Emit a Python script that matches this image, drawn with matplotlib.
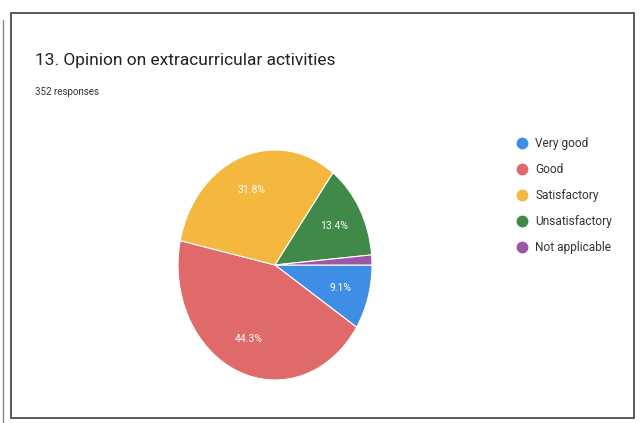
import matplotlib
matplotlib.use("Agg")
import matplotlib.pyplot as plt
from matplotlib.patches import Rectangle
from matplotlib.lines import Line2D

title = "13. Opinion on extracurricular activities"
subtitle = "352 responses"
categories = ["Very good", "Good", "Satisfactory", "Unsatisfactory", "Not applicable"]
values = [9.1, 44.3, 31.8, 13.4, 1.4]
colors = ["#3f8ee6", "#e06a6a", "#f5b83e", "#3f8a48", "#9c56a6"]

W, H = 642, 423
fig = plt.figure(figsize=(W / 100, H / 100), dpi=100)
fig.patch.set_facecolor("white")
plt.rcParams["font.family"] = ["Roboto", "DejaVu Sans"]

def fx(px):
    return px / W

def fy(py):
    return 1 - py / H

# frame lines (photo border)
fig.add_artist(Rectangle((fx(11), fy(418)), fx(623), (418 - 13) / H, transform=fig.transFigure,
                         fill=False, edgecolor="#5a5a5a", lw=1.4))
fig.add_artist(Line2D([fx(3), fx(3)], [fy(20), fy(423)], transform=fig.transFigure, color="#8a8a8a", lw=1.0))

fig.text(fx(35), fy(60), title, fontsize=12.5, color="#222222", va="center", ha="left")
fig.text(fx(35), fy(92), subtitle, fontsize=7, color="#333333", va="center", ha="left")

ax = fig.add_axes([fx(178), fy(380), fx(372) - fx(178), (380 - 150) / H])

def fmt(p):
    return f"{p:.1f}%" if p >= 5 else ""

wedges, texts, autotexts = ax.pie(values, colors=colors, startangle=0, counterclock=False,
                                  autopct=fmt, pctdistance=0.7,
                                  wedgeprops=dict(edgecolor="white", linewidth=0.8),
                                  textprops=dict(color="white", fontsize=7.5))
ax.set_aspect("auto")
ax.set_xlim(-1, 1)
ax.set_ylim(-1, 1)
ax.axis("off")

# legend
rows_y = [143, 169, 195, 221, 247]
for c, lab, y in zip(colors, categories, rows_y):
    fig.add_artist(Line2D([fx(522)], [fy(y)], marker="o", markersize=7.5, color=c,
                          linestyle="none", transform=fig.transFigure))
    fig.text(fx(535), fy(y), lab, fontsize=8.6, color="#333333", va="center", ha="left")

fig.savefig("out.png", dpi=100, facecolor="white")
